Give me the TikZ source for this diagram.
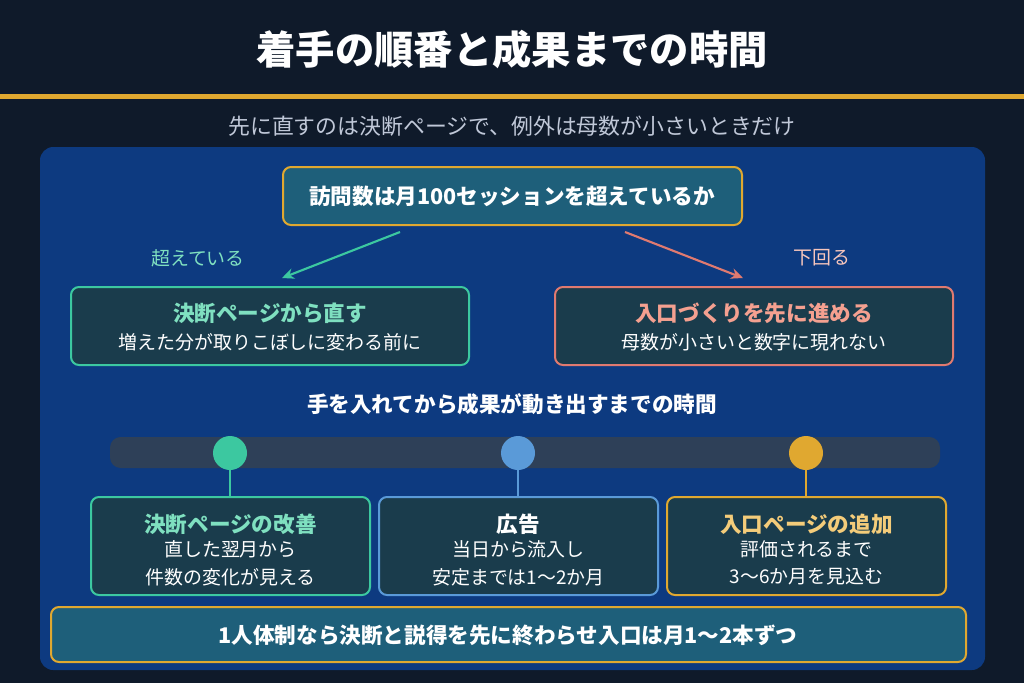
\documentclass[tikz,border=0pt]{standalone}
\usepackage{fontspec}
\usetikzlibrary{arrows.meta}
\setmainfont{Noto Sans CJK JP}
\definecolor{bg}{HTML}{0F1A2A}
\definecolor{gold}{HTML}{E0A830}
\definecolor{panel}{HTML}{0D3A80}
\definecolor{tealbox}{HTML}{1E5F7A}
\definecolor{darkbox}{HTML}{1A3C4C}
\definecolor{grn}{HTML}{3CC8A0}
\definecolor{grnt}{HTML}{7FE0C0}
\definecolor{red}{HTML}{E07A70}
\definecolor{redt}{HTML}{F4A090}
\definecolor{blu}{HTML}{5A9AD8}
\definecolor{goldt}{HTML}{F4CC7A}
\definecolor{bar}{HTML}{2E4058}
\definecolor{sub}{HTML}{C0C8D8}
\begin{document}
\begin{tikzpicture}[x=0.75pt,y=-0.75pt,
 box/.style={rounded corners=6pt,line width=1.5pt},
 t/.style={text=white,font=\bfseries\fontsize{16.2}{18}\selectfont},
 s/.style={text=white,font=\fontsize{14.2}{16}\selectfont}]
\useasboundingbox (0,0) rectangle (1024,683);
\fill[bg] (0,0) rectangle (1024,683);
\fill[gold] (0,94) rectangle (1024,99);
\node[text=white,font=\bfseries\fontsize{29.5}{33}\selectfont] (title) at (512,50) {着手の順番と成果までの時間};
\node[text=sub,font=\fontsize{16.4}{19}\selectfont] (subt) at (512,126) {先に直すのは決断ページで、例外は母数が小さいときだけ};
\fill[panel,rounded corners=10pt] (40,147) rectangle (985,670);
\draw[box,gold,fill=tealbox] (283,167) rectangle (742,225);
\node[t] (q) at (512,196) {訪問数は月100セッションを超えているか};
\draw[box,grn,fill=darkbox] (71,287) rectangle (469,365);
\node[t,text=grnt] (l1) at (270,313) {決断ページから直す};
\node[s] (l2) at (270,342) {増えた分が取りこぼしに変わる前に};
\draw[box,red,fill=darkbox] (555,287) rectangle (953,365);
\node[t,text=redt] (r1) at (754,313) {入口づくりを先に進める};
\node[s] (r2) at (754,342) {母数が小さいと数字に現れない};
\coordinate (qa) at (400,232); \coordinate (qb) at (625,232);
\coordinate (la) at (282,278); \coordinate (ra) at (743,278);
\draw[grn,line width=1.6pt,-{Stealth[length=9pt,width=8pt]}] (qa) -- (la);
\draw[red,line width=1.6pt,-{Stealth[length=9pt,width=8pt]}] (qb) -- (ra);
\node[text=grnt,font=\fontsize{14.2}{16}\selectfont] (y) at (198,258) {超えている};
\node[text=redt!60!white,font=\fontsize{14.2}{16}\selectfont] (n) at (822,258) {下回る};
\node[t] (h) at (512,404) {手を入れてから成果が動き出すまでの時間};
\fill[bar,rounded corners=8pt] (110,437) rectangle (940,468);
\foreach \x/\c/\tc/\T/\A/\B [count=\i] in {91/grn/grnt/決断ページの改善/直した翌月から/件数の変化が見える,379/blu/white/広告/当日から流入し/安定までは1〜2か月,667/gold/goldt/入口ページの追加/評価されるまで/3〜6か月を見込む}{
 \draw[box,\c,fill=darkbox] (\x,497) rectangle ({\x+279},595);
 \node[t,text=\tc] (bt\i) at ({\x+139.5},524) {\T};
 \node[s] (ba\i) at ({\x+139.5},549) {\A};
 \node[s] (bb\i) at ({\x+139.5},577) {\B};
 \node[circle,fill=\c,minimum size=34pt*0.75,inner sep=0] (c\i) at ({\x+139},453) {};
 \draw[\c,line width=2pt] (c\i.south) -- ({\x+139},497);
}
\draw[box,gold,fill=tealbox] (51,607) rectangle (966,662);
\node[t] (bot) at (508,635) {1人体制なら決断と説得を先に終わらせ入口は月1〜2本ずつ};
\end{tikzpicture}
\end{document}
